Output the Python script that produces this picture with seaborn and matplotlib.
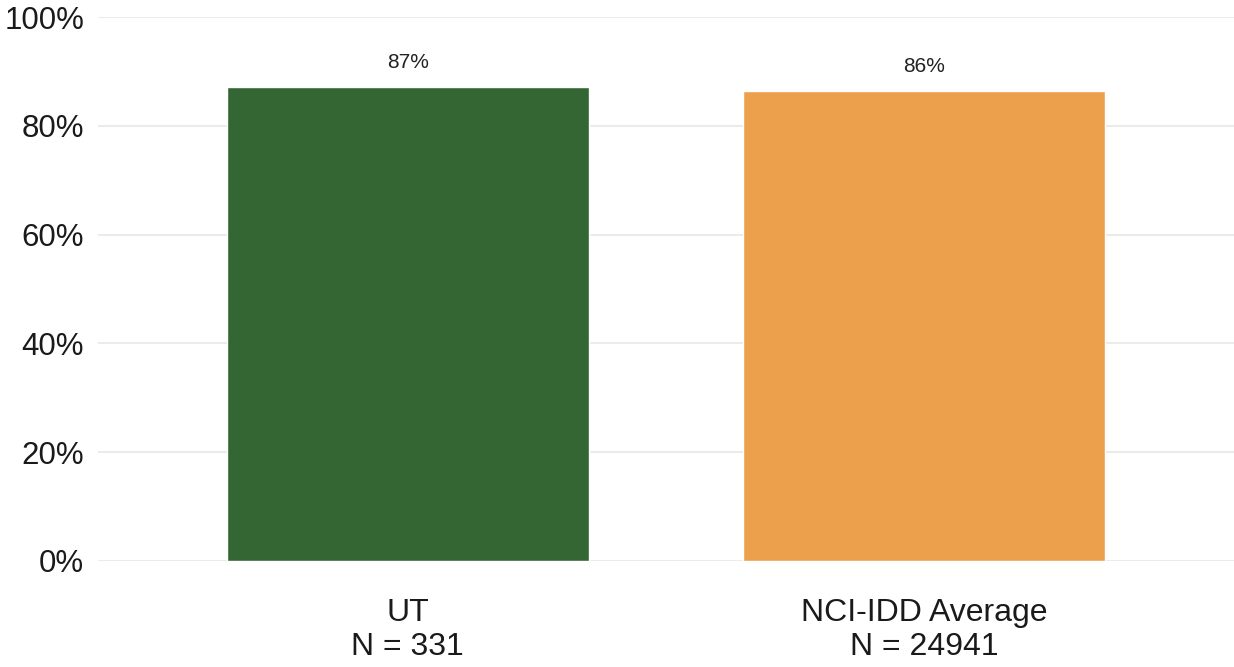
import matplotlib
matplotlib.use("Agg")
import matplotlib.pyplot as plt
import seaborn as sns
import pandas as pd
from matplotlib.ticker import PercentFormatter

# --- data ---
groups = ["UT", "NCI-IDD Average"]
counts = [331, 24941]
rates = [87.1, 86.4]
bar_labels = ["87%", "86%"]
colors = ["#336633", "#EDA04C"]

df = pd.DataFrame({"group": groups, "rate": rates})

sns.set_theme(style="whitegrid")
plt.rcParams["font.family"] = ["Liberation Sans", "DejaVu Sans"]

fig = plt.figure(figsize=(12.34, 6.67), dpi=100)
ax = fig.add_axes([0.0794, 0.159, 0.9206, 0.8155])

sns.barplot(data=df, x="group", y="rate", hue="group", palette=colors,
            width=0.7, legend=False, ax=ax, saturation=1)

for cont, lab in zip(ax.containers, bar_labels):
    ax.bar_label(cont, labels=[lab], padding=11, fontsize=15, color="#222222")

ax.set_ylim(0, 100)
ax.set_xlim(-0.6, 1.6)
ax.yaxis.set_major_formatter(PercentFormatter(decimals=0))
ax.set_yticks([0, 20, 40, 60, 80, 100])
ax.set_xticks(range(len(groups)))
ax.set_xticklabels([f"{g}\nN = {n}" for g, n in zip(groups, counts)],
                   fontsize=23, linespacing=1.15)
ax.tick_params(axis="y", labelsize=22.5, labelcolor="#1a1a1a", length=0, pad=10)
ax.tick_params(axis="x", length=0, pad=27, labelcolor="#1a1a1a")
ax.set_xlabel("")
ax.set_ylabel("")
ax.grid(axis="x", visible=False)
ax.grid(axis="y", color="#ebebeb", linewidth=1.5)
for s in ax.spines.values():
    s.set_visible(False)

fig.savefig("out.png", dpi=100)
